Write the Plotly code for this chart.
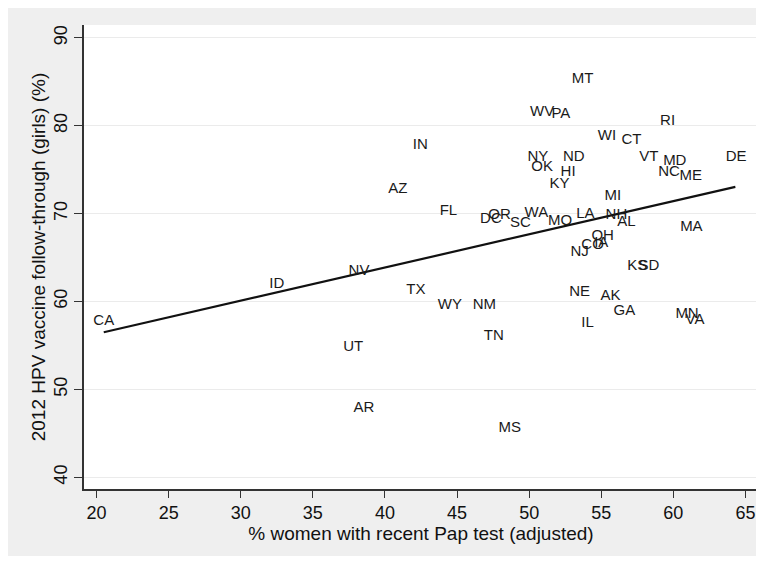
import plotly.graph_objects as go

states = ["MT", "WV", "PA", "RI", "WI", "CT", "IN", "NY", "ND", "DE", "VT", "MD",
          "OK", "HI", "NC", "ME", "KY", "AZ", "MI", "FL", "DC", "OR", "SC", "WA",
          "MO", "LA", "NH", "AL", "MA", "OH", "CO", "IA", "NJ", "KS", "SD", "NV",
          "ID", "TX", "NE", "AK", "WY", "NM", "GA", "MN", "VA", "IL", "CA", "TN",
          "UT", "AR", "MS"]
pap_pct = [53.7, 50.9, 52.2, 59.6, 55.4, 57.1, 42.45, 50.6, 53.1, 64.35, 58.3, 60.1,
           50.9, 52.7, 59.7, 61.2, 52.1, 40.9, 55.8, 44.4, 47.35, 47.95, 49.4, 50.5,
           52.15, 53.9, 56.05, 56.75, 61.25, 55.1, 54.4, 55.0, 53.5, 57.5, 58.3, 38.2,
           32.5, 42.15, 53.5, 55.65, 44.5, 46.9, 56.6, 60.95, 61.5, 54.05, 20.5, 47.55,
           37.8, 38.55, 48.65]
hpv_followthrough = [85.3, 81.5, 81.3, 80.5, 78.8, 78.35, 77.8, 76.45, 76.45, 76.45, 76.45, 75.95,
                     75.25, 74.7, 74.7, 74.3, 73.35, 72.75, 72.0, 70.25, 69.4, 69.85, 68.9, 70.0,
                     69.1, 69.9, 69.85, 69.0, 68.5, 67.45, 66.4, 66.6, 65.6, 64.05, 64.05, 63.5,
                     61.95, 61.3, 61.1, 60.65, 59.6, 59.6, 58.85, 58.5, 57.85, 57.5, 57.8, 56.0,
                     54.8, 47.85, 45.55]
fit_x = [20.5, 64.3]
fit_y = [56.5, 73.05]

x_ticks = [20, 25, 30, 35, 40, 45, 50, 55, 60, 65]
y_ticks = [40, 50, 60, 70, 80, 90]

fig = go.Figure()
fig.add_trace(go.Scatter(
    x=fit_x, y=fit_y, mode="lines",
    line=dict(color="#111111", width=2.2), hoverinfo="skip", showlegend=False))
fig.add_trace(go.Scatter(
    x=pap_pct, y=hpv_followthrough, mode="text", text=states,
    textposition="middle center",
    textfont=dict(family="Liberation Sans, Arial, sans-serif", size=15, color="#1a1a1a"),
    showlegend=False))

axis_font = dict(family="Liberation Sans, Arial, sans-serif", size=18, color="#111111")
title_font = dict(family="Liberation Sans, Arial, sans-serif", size=19, color="#111111")

fig.update_layout(
    width=756, height=548,
    margin=dict(l=76, r=6, t=17, b=67, pad=0),
    paper_bgcolor="#efefef",
    plot_bgcolor="white",
    xaxis=dict(
        range=[19.13, 65.87], tickmode="array", tickvals=x_ticks,
        ticks="outside", ticklen=7, tickwidth=1.3, tickcolor="#333333",
        showline=True, linecolor="#333333", linewidth=1.5,
        showgrid=False, zeroline=False, tickfont=axis_font,
        title=dict(text="% women with recent Pap test (adjusted)", font=title_font, standoff=0),
    ),
    yaxis=dict(
        range=[38.67, 91.46], tickmode="array", tickvals=y_ticks,
        ticks="outside", ticklen=8, tickwidth=1.3, tickcolor="#333333",
        showline=True, linecolor="#333333", linewidth=1.5,
        showgrid=True, gridcolor="#ebebeb", gridwidth=1.2, zeroline=False,
        tickfont=axis_font, tickangle=-90,
        title=dict(text="2012 HPV vaccine follow-through (girls) (%)", font=title_font, standoff=0),
    ),
)

fig.write_html("out.html")
